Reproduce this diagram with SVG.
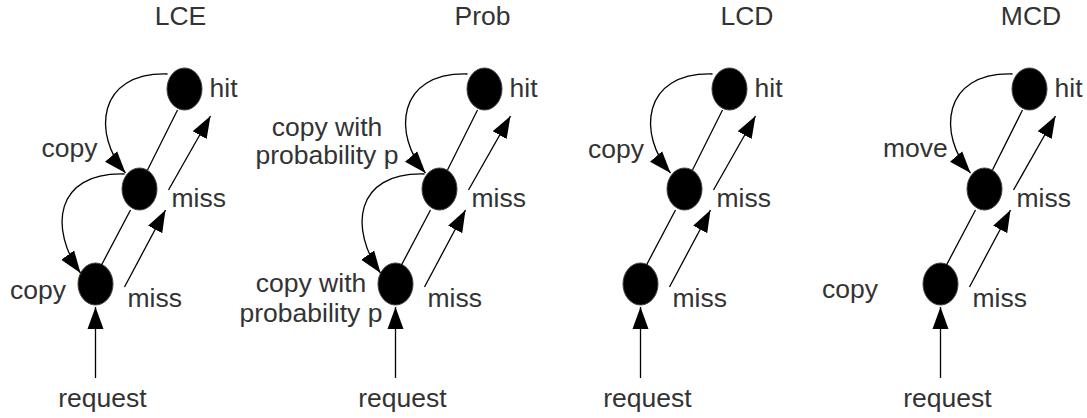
<svg xmlns="http://www.w3.org/2000/svg" width="1087" height="418" viewBox="0 0 1087 418">
<style>
text{font-family:"Liberation Sans",Arial,sans-serif;font-size:26.5px;fill:#333333}
.m{text-anchor:middle}
.node{fill:#000;stroke:#444;stroke-width:1}
.c line,.c path{stroke:#000;stroke-width:1.3;fill:none}
.a{marker-end:url(#ah)}
</style>
<defs>
<marker id="ah" markerUnits="userSpaceOnUse" markerWidth="23" markerHeight="17" refX="22" refY="8.5" orient="auto">
<path d="M0,0.5 L22,8.5 L0,16.5 z" fill="#000"/>
</marker>
</defs>
<rect width="1087" height="418" fill="#fff"/>
<g id="titles">
<text class="m" x="180.5" y="25">LCE</text>
<text class="m" x="482.5" y="25">Prob</text>
<text class="m" x="747" y="25">LCD</text>
<text class="m" x="1031" y="25">MCD</text>
</g>
<g id="lce">
<g id="lce-hit"><ellipse class="node" cx="184.5" cy="89" rx="17.5" ry="21"/><text x="209.5" y="97">hit</text></g>
<g id="lce-mid"><ellipse class="node" cx="139.5" cy="189" rx="17.5" ry="21"/><text x="171.5" y="207">miss</text></g>
<g id="lce-bot"><ellipse class="node" cx="95.5" cy="284" rx="17.5" ry="21"/><text x="127.5" y="307">miss</text></g>
<text x="41.5" y="157">copy</text>
<text x="10" y="299">copy</text>
<text class="m" x="102.5" y="407">request</text>
</g>
<g id="prob">
<g id="prob-hit"><ellipse class="node" cx="484.5" cy="89" rx="17.5" ry="21"/><text x="509.5" y="97">hit</text></g>
<g id="prob-mid"><ellipse class="node" cx="439.5" cy="189" rx="17.5" ry="21"/><text x="471.5" y="207">miss</text></g>
<g id="prob-bot"><ellipse class="node" cx="395.5" cy="284" rx="17.5" ry="21"/><text x="427.5" y="307">miss</text></g>
<text class="m" x="327" y="136">copy with</text>
<text class="m" x="327" y="164">probability p</text>
<text class="m" x="311" y="292">copy with</text>
<text class="m" x="311" y="322">probability p</text>
<text class="m" x="402.5" y="407">request</text>
</g>
<g id="lcd">
<g id="lcd-hit"><ellipse class="node" cx="729.5" cy="89" rx="17.5" ry="21"/><text x="754.5" y="97">hit</text></g>
<g id="lcd-mid"><ellipse class="node" cx="684.5" cy="189" rx="17.5" ry="21"/><text x="716.5" y="207">miss</text></g>
<g id="lcd-bot"><ellipse class="node" cx="640.5" cy="284" rx="17.5" ry="21"/><text x="672.5" y="307">miss</text></g>
<text x="588" y="158">copy</text>
<text class="m" x="647.5" y="407">request</text>
</g>
<g id="mcd">
<g id="mcd-hit"><ellipse class="node" cx="1029.5" cy="89" rx="17.5" ry="21"/><text x="1054.5" y="97">hit</text></g>
<g id="mcd-mid"><ellipse class="node" cx="984.5" cy="189" rx="17.5" ry="21"/><text x="1016.5" y="207">miss</text></g>
<g id="mcd-bot"><ellipse class="node" cx="940.5" cy="284" rx="17.5" ry="21"/><text x="972.5" y="307">miss</text></g>
<text x="883" y="157">move</text>
<text x="822" y="298">copy</text>
<text class="m" x="947.5" y="407">request</text>
</g>
<g id="connectors" class="c">
<line x1="177.5" y1="110" x2="147.5" y2="170"/>
<line x1="130.5" y1="210" x2="101.5" y2="265"/>
<line class="a" x1="168.5" y1="190" x2="210.5" y2="116"/>
<line class="a" x1="124.5" y1="287" x2="165.5" y2="210"/>
<line class="a" x1="95.5" y1="378" x2="95.5" y2="307"/>
<path class="a" d="M167.5,74 C96.5,72 92.5,135 125.5,173"/>
<path class="a" d="M124.5,174 C53.5,172 49.5,230 80.5,273"/>
<line x1="477.5" y1="110" x2="447.5" y2="170"/>
<line x1="430.5" y1="210" x2="401.5" y2="265"/>
<line class="a" x1="468.5" y1="190" x2="510.5" y2="116"/>
<line class="a" x1="424.5" y1="287" x2="465.5" y2="210"/>
<line class="a" x1="395.5" y1="378" x2="395.5" y2="307"/>
<path class="a" d="M467.5,74 C396.5,72 392.5,135 425.5,173"/>
<path class="a" d="M424.5,174 C353.5,172 349.5,230 380.5,273"/>
<line x1="722.5" y1="110" x2="692.5" y2="170"/>
<line x1="675.5" y1="210" x2="646.5" y2="265"/>
<line class="a" x1="713.5" y1="190" x2="755.5" y2="116"/>
<line class="a" x1="669.5" y1="287" x2="710.5" y2="210"/>
<line class="a" x1="640.5" y1="378" x2="640.5" y2="307"/>
<path class="a" d="M712.5,74 C641.5,72 637.5,135 670.5,173"/>
<line x1="1022.5" y1="110" x2="992.5" y2="170"/>
<line x1="975.5" y1="210" x2="946.5" y2="265"/>
<line class="a" x1="1013.5" y1="190" x2="1055.5" y2="116"/>
<line class="a" x1="969.5" y1="287" x2="1010.5" y2="210"/>
<line class="a" x1="940.5" y1="378" x2="940.5" y2="307"/>
<path class="a" d="M1012.5,74 C941.5,72 937.5,135 970.5,173"/>
</g>
</svg>
